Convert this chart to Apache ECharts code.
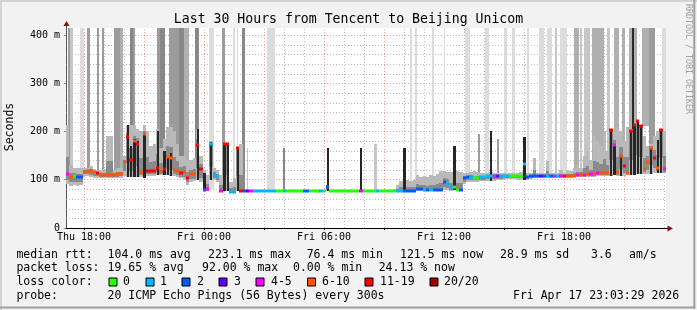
<!DOCTYPE html>
<html>
<head>
<meta charset="utf-8">
<title>Last 30 Hours from Tencent to Beijing Unicom</title>
<script src="https://cdn.jsdelivr.net/npm/echarts@6.0.0/dist/echarts.min.js"></script>
<style>
html,body{margin:0;padding:0;background:#f2f2f2;}
#chart{width:697px;height:310px;}
</style>
</head>
<body>
<div id="chart"></div>
<script>
// ---------------- data ----------------
const titleText = 'Last 30 Hours from Tencent to Beijing Unicom';
const yAxisName = 'Seconds';
const watermark = 'RRDTOOL / TOBI OETIKER';
const startHour = 17.1;   // hours since Thu 00:00
const endHour = 47.1;
const stepHours = 1 / 6;  // 10 minute steps

const median = [
 112,106,107,106,106,117,118,118,117,113,
 110,110,110,110,110,111,112,137,189,141,
 180,175,117,195,118,118,118,125,118,122,
 148,145,120,118,113,116,104,111,111,172,
 122,79,80,174,110,108,77,174,174,75,
 75,166,76,76,76,76,76,76,76,76,
 76,76,76,76,76,76,76,76,76,76,
 76,76,76,76,76,76,76,76,86,76,
 76,76,76,76,76,76,76,76,77,76,
 76,76,76,76,76,76,76,76,77,77,
 77,77.5,77.5,77.5,77.5,80,80,78,78,78,
 78,79,79,96,92,82,85,79,79,103,
 105,105,103,103,105,105,107,107,107,107,
 107,108,108,108,108,108,108,132,105,108,
 108,108,108,108,108,108,108,108,108,108,
 108,108,108,110,110,110,111,111,112,113,
 114,113,114,203,172,116,149,128,114,201,
 213,222,212,122,137,166,145,125,203,122
];
const lossCount = [
 5,8,0,2,2,8,8,8,8,15,
 8,8,8,8,8,8,8,8,15,15,
 8,15,8,8,15,15,15,15,8,15,
 8,8,8,8,15,8,15,8,8,15,
 15,2,5,1,1,1,5,15,15,1,
 1,15,15,2,3,5,1,1,1,1,
 1,1,1,0,0,1,0,0,0,0,
 0,2,2,0,0,0,1,0,2,0,
 0,0,0,0,0,0,0,0,5,0,
 0,0,0,1,0,0,0,0,0,1,
 1,2,2,2,2,2,2,1,2,1,
 2,2,2,2,1,1,0,0,2,2,
 2,1,0,0,1,1,1,1,5,3,
 1,1,1,0,0,0,0,1,2,2,
 2,2,3,2,1,2,5,1,5,15,
 8,8,8,5,8,5,8,5,8,5,
 8,8,8,15,5,8,8,15,8,15,
 15,15,15,8,8,8,15,8,15,5
];
const smokeLo = [
 92,88,90,88,90,108,108,106,104,104,
 104,103,103,103,104,104,104,108,105,105,
 105,105,105,103,108,108,108,110,110,110,
 110,108,108,105,103,100,90,95,98,100,
 95,76,76,100,100,95,76,76,76,75,
 75,76,76,76,76,76,76,76,76,76,
 76,76,76,76,76,76,76,76,76,76,
 76,76,76,76,76,76,76,76,76,76,
 76,76,76,76,76,76,76,76,76,76,
 76,76,76,76,76,76,76,76,76,76,
 76,76,76,76,76,77,77,76,76,76,
 76,76,76,78,78,76,78,77,78,92,
 95,95,96,96,97,98,98,98,98,99,
 100,100,101,101,101,100,100,100,100,102,
 103,103,103,103,103,103,103,103,103,104,
 104,104,105,105,105,105,105,106,106,107,
 107,108,108,108,110,108,108,108,110,110,
 110,112,112,112,112,112,114,114,114,114
];
const smokeHi = [
 213,130,125,125,125,125,125,128,122,120,
 120,122,190,190,120,125,125,150,213,213,
 213,205,200,213,200,170,175,205,165,185,
 210,210,200,175,150,150,140,140,145,205,
 150,120,110,180,125,120,110,176,176,95,
 104,167,174,76,76,76,76,76,76,76,
 76,76,76,76,76,80,76,76,76,76,
 76,76,76,76,76,76,76,76,90,76,
 76,76,76,76,76,76,76,76,80,76,
 76,76,76,76,76,76,76,76,80,90,
 97,100,100,98,100,110,105,108,105,110,
 108,112,118,118,117,116,120,118,117,115,
 115,116,118,117,115,114,115,116,115,114,
 113,114,114,113,113,114,116,140,115,113,
 145,115,114,113,138,114,113,115,120,115,
 120,118,125,130,125,150,160,140,190,180,
 170,200,160,205,200,205,200,180,210,205,
 205,224,214,190,170,175,190,200,205,200
];
const darkHi = [
 0,0,0,0,0,0,0,0,0,0,
 0,0,0,0,0,0,0,0,213,170,
 185,180,0,197,0,0,0,200,0,160,
 150,155,0,0,0,0,0,0,0,205,
 0,115,0,178,0,0,0,176,176,0,
 0,167,0,0,0,0,0,0,0,0,
 0,0,0,0,0,0,0,0,0,0,
 0,0,0,0,0,0,0,0,165,0,
 0,0,0,0,0,0,0,0,165,0,
 0,0,0,0,0,0,0,0,0,0,
 0,165,0,0,0,0,0,0,0,0,
 0,0,0,0,0,0,170,0,0,0,
 0,0,0,0,0,0,0,200,0,0,
 0,0,0,0,0,0,0,189,0,0,
 0,0,0,0,0,0,0,0,0,0,
 0,0,0,0,0,0,0,0,0,0,
 0,0,0,205,175,0,151,0,0,203,
 213,224,214,0,0,168,0,182,205,0
];
// tall smoke columns (loss periods): start hour, end hour, top value (ms), density 1..6
const spikeStart   = [17.21,17.30,17.80,18.135,18.635,18.885,19.50,19.80,20.30,20.435,21.635,21.80,22.25,22.75,23.00,23.55,24.25,24.90,25.45,25.65,25.885,26.135,27.135,27.95,32.50,34.30,34.55,35.385,35.985,37.05,37.70,38.05,38.65,39.015,39.415,40.135,40.75,41.15,41.55,41.815,42.515,42.80,43.00,43.40,44.135,44.515,44.915,45.25,45.385,45.50,45.90,46.265,46.885];
const spikeEnd     = [17.30,17.45,18.00,18.30,18.75,18.975,19.80,19.95,20.435,20.55,21.80,22.05,22.75,23.00,23.25,23.75,24.50,25.035,25.55,25.715,26.05,26.22,27.55,28.05,32.65,34.415,34.65,35.50,36.05,37.30,37.80,38.25,38.75,39.135,39.55,40.25,41.015,41.385,41.65,42.15,42.735,42.90,43.30,44.00,44.30,44.75,45.05,45.385,45.50,45.665,46.265,46.55,47.10];
const spikeTop     = [415,415,415,415,415,415,415,415,415,415,415,415,415,415,415,415,415,415,415,415,415,165,415,165,175,415,415,415,415,415,195,415,184,415,415,415,415,415,415,415,415,415,415,415,415,415,415,415,415,415,415,415,415];
const spikeDensity = [4,2,1,4,4,4,4,3,5,4,4,5,4,5,3,5,1,4,1,1,5,2,1,5,2,1,1,1,1,1,4,1,4,1,1,1,1,1,2,1,3,2,2,3,2,3,3,3,6,3,3,4,1];

const gridHours  = [18,19,20,21,22,23,24,25,26,27,28,29,30,31,32,33,34,35,36,37,38,39,40,41,42,43,44,45,46,47];
const majorHours = [18,21,24,27,30,33,36,39,42,45];
const labelHours = [18,24,30,36,42];
const yMinorTicks = [20,40,60,80,120,140,160,180,220,240,260,280,320,340,360,380];

const lossBins   = [0,1,2,3,5,10,19,20];
const lossLabels = ['0','1','2','3','4-5','6-10','11-19','20/20'];
const lossColors = ['#26ff00','#00b8ff','#0059ff','#5e00ff','#ff00fe','#ff5500','#ff0000','#a10000'];

const rttStats  = ['104.0 ms avg','223.1 ms max','76.4 ms min','121.5 ms now','28.9 ms sd','3.6','am/s'];
const lossStats = ['19.65 % avg','92.00 % max','0.00 % min','24.13 % now'];
const probeText = '20 ICMP Echo Pings (56 Bytes) every 300s';
const stampText = 'Fri Apr 17 23:03:29 2026';

// ---------------- rendering ----------------
const FONT = '"DejaVu Sans Mono", monospace';
const Y_MAX = 414.5;
const G = {left: 66, top: 28, width: 600, height: 200};
const toneColors = {1:'#dcdcdc',2:'#c6c6c6',3:'#b0b0b0',4:'#9c9c9c',5:'#888888',6:'#2a2a2a'};

function lossColor(n) {
  for (let k = 0; k < lossBins.length; k++) if (n <= lossBins[k]) return lossColors[k];
  return lossColors[lossColors.length - 1];
}
function stepIndex(t) {
  return Math.max(0, Math.min(median.length - 1, Math.floor((t - startHour) / stepHours)));
}
function box(api, x0, x1, v0, v1) {
  const a = api.coord([x0, v1]), b = api.coord([x1, v0]);
  const xl = Math.round(a[0]), xr = Math.round(b[0]);
  const yt = Math.round(a[1]), yb = Math.round(b[1]);
  return {x: xl, y: yt, width: Math.max(1, xr - xl), height: Math.max(1, yb - yt)};
}

const stepData = median.map((m, i) => [startHour + i * stepHours, startHour + (i + 1) * stepHours, smokeLo[i], smokeHi[i], m, lossCount[i], darkHi[i]]);
const smokeData = stepData.filter(d => d[3] - d[2] > 1);
const darkData = stepData.filter(d => d[6] > 0);
const spikeData = spikeStart.map((s, k) => [s, spikeEnd[k], median[stepIndex(s)], spikeTop[k], spikeDensity[k]]);
const vGridData = gridHours.map(h => [h, majorHours.includes(h) ? 1 : 0]);
const hGridData = yMinorTicks.map(v => [startHour, v]);

function pad2(n) { return (n < 10 ? '0' : '') + n; }

const chart = echarts.init(document.getElementById('chart'), null, {renderer: 'canvas', width: 697, height: 310});

const legendItems = [];
const boxX = [109,146,182,219,256,307.5,365,430];
const lblX = [123,160,197,234,271,322,380,444];
lossLabels.forEach((lab, k) => {
  legendItems.push({type:'rect', shape:{x: boxX[k], y: 278, width: 8, height: 8}, style:{fill: lossColors[k], stroke:'#000', lineWidth: 1}});
  legendItems.push({type:'text', x: lblX[k], y: 282.3, style:{text: lab, font: '11.5px ' + FONT, fill:'#000', verticalAlign:'middle'}});
});
const row1X = [107.6,208,306.7,400,500,591,629];
const row2X = [107.6,202,293,378.7];
function rowText(str, x, y, extra) {
  return Object.assign({type:'text', x: x, y: y, style:{text: str, font: '11.5px ' + FONT, fill:'#000', verticalAlign:'middle'}}, extra || {});
}
const graphics = [
  // frame
  {type:'line', shape:{x1:0, y1:1, x2:697, y2:1}, style:{stroke:'#d2d2d2', lineWidth:2}},
  {type:'line', shape:{x1:1, y1:0, x2:1, y2:310}, style:{stroke:'#d2d2d2', lineWidth:2}},
  {type:'line', shape:{x1:0, y1:307.5, x2:695.3, y2:307.5}, style:{stroke:'#9e9e9e', lineWidth:2}},
  {type:'line', shape:{x1:694.3, y1:0, x2:694.3, y2:308.5}, style:{stroke:'#9e9e9e', lineWidth:2}},
  // title and axis name
  {type:'text', x: 348.5, y: 19.5, style:{text: titleText, font: '13.2px ' + FONT, fill:'#000', align:'center', verticalAlign:'middle'}},
  {type:'text', x: 10, y: 127, rotation: Math.PI / 2, style:{text: yAxisName, font: '11.5px ' + FONT, fill:'#000', align:'center', verticalAlign:'middle'}},
  {type:'text', x: 688.5, y: 4, rotation: -Math.PI / 2, style:{text: watermark, font: '8.3px ' + FONT, fill:'#a0a0a0', align:'left', verticalAlign:'middle'}},
  // axis arrows
  {type:'line', shape:{x1: G.left + 0.5, y1: G.top, x2: G.left + 0.5, y2: G.top - 3}, style:{stroke:'#555', lineWidth:1}},
  {type:'polygon', shape:{points:[[G.left + 0.5, G.top - 7], [G.left - 2.5, G.top - 2], [G.left + 3.5, G.top - 2]]}, style:{fill:'#8b1010'}},
  {type:'line', shape:{x1: G.left + G.width, y1: G.top + G.height + 0.5, x2: G.left + G.width + 2, y2: G.top + G.height + 0.5}, style:{stroke:'#000', lineWidth:1}},
  {type:'polygon', shape:{points:[[G.left + G.width + 7, G.top + G.height + 0.5], [G.left + G.width + 1.5, G.top + G.height - 2.5], [G.left + G.width + 1.5, G.top + G.height + 3.5]]}, style:{fill:'#8b1010'}},
  // legend rows
  rowText('median rtt:', 16.4, 254.7),
  rowText('packet loss:', 16.4, 268),
  rowText('loss color:', 16.4, 282.3),
  rowText('probe:', 16.4, 296),
  rowText(probeText, 107.6, 296),
  rowText(stampText, 513, 296)
].concat(rttStats.map((s, k) => rowText(s, row1X[k], 254.7)))
 .concat(lossStats.map((s, k) => rowText(s, row2X[k], 268)))
 .concat(legendItems);

const option = {
  backgroundColor: '#f2f2f2',
  animation: false,
  grid: {left: G.left, top: G.top, width: G.width, height: G.height, show: true, backgroundColor: '#ffffff', borderWidth: 0},
  xAxis: {
    type: 'value', min: startHour, max: endHour,
    axisLine: {show: true, lineStyle: {color: '#000', width: 1}},
    axisTick: {show: true, customValues: majorHours, length: 2, lineStyle: {color: '#000'}},
    axisLabel: {
      customValues: labelHours, margin: 4,
      fontFamily: '"DejaVu Sans Mono", monospace', fontSize: 10, color: '#000',
      formatter: h => (h < 24 ? 'Thu ' : 'Fri ') + pad2(h % 24) + ':00'
    },
    splitLine: {show: false}
  },
  yAxis: {
    type: 'value', min: 0, max: Y_MAX, interval: 100,
    axisLine: {show: true, lineStyle: {color: '#555', width: 1}},
    axisTick: {show: true, length: 2, lineStyle: {color: '#888'}},
    axisLabel: {
      margin: 6, showMaxLabel: false,
      fontFamily: '"DejaVu Sans Mono", monospace', fontSize: 10, color: '#000',
      formatter: v => (v === 0 ? '0' : v + ' m')
    },
    splitLine: {show: true, showMinLine: false, showMaxLine: false, lineStyle: {color: 'rgba(240,80,80,0.55)', type: [1, 2], width: 1}}
  },
  series: [
    { // vertical grid
      type: 'custom', z: 1, silent: true, clip: true,
      data: vGridData, encode: {x: 0, y: 1},
      renderItem: (p, api) => {
        const h = api.value(0), major = api.value(1);
        const a = api.coord([h, 0]), b = api.coord([h, Y_MAX]);
        const x = Math.round(a[0]) + 0.5;
        return {type: 'line', shape: {x1: x, y1: a[1], x2: x, y2: b[1]},
          style: {stroke: major ? 'rgba(240,80,80,0.55)' : 'rgba(140,140,140,0.55)', lineWidth: 1, lineDash: [1, 2]}};
      }
    },
    { // horizontal minor grid
      type: 'custom', z: 1, silent: true, clip: true,
      data: hGridData, encode: {x: 0, y: 1},
      renderItem: (p, api) => {
        const v = api.value(1);
        const a = api.coord([startHour, v]), b = api.coord([endHour, v]);
        const y = Math.round(a[1]) + 0.5;
        return {type: 'line', shape: {x1: a[0], y1: y, x2: b[0], y2: y},
          style: {stroke: 'rgba(140,140,140,0.55)', lineWidth: 1, lineDash: [1, 2]}};
      }
    },
    { // tall smoke columns
      type: 'custom', z: 2, silent: true, clip: true,
      data: spikeData, encode: {x: [0, 1], y: [2, 3]},
      renderItem: (p, api) => {
        const top = Math.min(api.value(3), Y_MAX);
        return {type: 'rect', shape: box(api, api.value(0), api.value(1), api.value(2), top),
          style: {fill: toneColors[api.value(4)]}};
      }
    },
    { // smoke
      type: 'custom', z: 3, silent: true, clip: true,
      data: smokeData, encode: {x: [0, 1], y: [2, 3]},
      renderItem: (p, api) => {
        const x0 = api.value(0), x1 = api.value(1), lo = api.value(2), hi = api.value(3), med = api.value(4);
        const inLo = lo + (med - lo) * 0.35, inHi = med + (hi - med) * 0.35;
        return {type: 'group', children: [
          {type: 'rect', shape: box(api, x0, x1, lo, hi), style: {fill: '#b9b9b9'}},
          {type: 'rect', shape: box(api, x0, x1, inLo, inHi), style: {fill: '#8a8a8a'}}
        ]};
      }
    },
    { // dense dark smoke
      type: 'custom', z: 4, silent: true, clip: true,
      data: darkData, encode: {x: [0, 1], y: [2, 6]},
      renderItem: (p, api) => {
        const x0 = api.value(0), x1 = api.value(1);
        const w = x1 - x0;
        return {type: 'rect', shape: box(api, x0 + w * 0.15, x1 - w * 0.15, api.value(2), Math.min(api.value(6), Y_MAX)),
          style: {fill: '#262626'}};
      }
    },
    { // median, coloured by loss
      type: 'custom', z: 5, silent: true, clip: true,
      data: stepData, encode: {x: [0, 1], y: 4},
      renderItem: (p, api) => {
        const a = api.coord([api.value(0), api.value(4)]), b = api.coord([api.value(1), api.value(4)]);
        const xl = Math.round(a[0]), xr = Math.round(b[0]);
        const yc = Math.round(a[1]);
        return {type: 'rect', shape: {x: xl, y: yc - 1.5, width: xr - xl, height: 3},
          style: {fill: lossColor(api.value(5))}};
      }
    }
  ],
  graphic: graphics
};
chart.setOption(option);
</script>
</body>
</html>
